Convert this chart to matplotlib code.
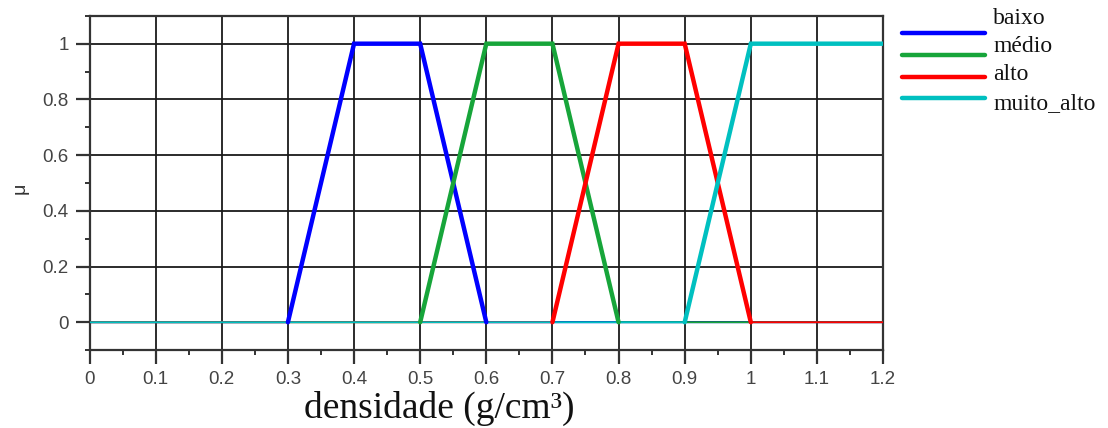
import matplotlib
matplotlib.use("Agg")
import matplotlib.pyplot as plt
from matplotlib.lines import Line2D
from matplotlib.ticker import MultipleLocator

# Membership function breakpoints (densidade in g/cm3, membership mu)
baixo_x = [0.0, 0.3, 0.4, 0.5, 0.6, 1.2]
baixo_y = [0, 0, 1, 1, 0, 0]
medio_x = [0.0, 0.5, 0.6, 0.7, 0.8, 1.2]
medio_y = [0, 0, 1, 1, 0, 0]
alto_x = [0.0, 0.7, 0.8, 0.9, 1.0, 1.2]
alto_y = [0, 0, 1, 1, 0, 0]
muito_alto_x = [0.0, 0.9, 1.0, 1.2]
muito_alto_y = [0, 0, 1, 1]

labels = ["baixo", "médio", "alto", "muito_alto"]
colors = ["#0000ff", "#17a53a", "#ff0000", "#00c0c0"]
xticks = [0, 0.1, 0.2, 0.3, 0.4, 0.5, 0.6, 0.7, 0.8, 0.9, 1, 1.1, 1.2]
yticks = [0, 0.2, 0.4, 0.6, 0.8, 1]

series = [(baixo_x, baixo_y), (medio_x, medio_y), (alto_x, alto_y),
          (muito_alto_x, muito_alto_y)]

W, H = 1108, 428
fig = plt.figure(figsize=(11.08, 4.28), dpi=100)
ax = fig.add_axes([0.0808, 0.182, 0.7162, 0.781])

for (xs, ys), c in zip(series, colors):
    # thin line over the whole domain
    ax.plot(xs, ys, color=c, lw=1.3, zorder=3, solid_capstyle="butt")
    # thick line over the nonzero part
    nz = [i for i, v in enumerate(ys) if v > 0]
    i0 = nz[0] - 1
    i1 = min(nz[-1] + 1, len(ys) - 1)
    ax.plot(xs[i0:i1 + 1], ys[i0:i1 + 1], color=c, lw=3.2, zorder=4,
            solid_capstyle="round", solid_joinstyle="miter")

ax.set_xlim(0, 1.2)
ax.set_ylim(-0.1, 1.1)
ax.set_xticks(xticks)
ax.set_xticklabels([f"{t:g}" for t in xticks])
ax.set_yticks(yticks)
ax.set_yticklabels([f"{t:g}" for t in yticks])
ax.xaxis.set_minor_locator(MultipleLocator(0.05))
ax.yaxis.set_minor_locator(MultipleLocator(0.1))
ax.grid(True, which="major", color="#1a1a1a", lw=1.3)
ax.set_axisbelow(True)
for s in ax.spines.values():
    s.set_color("#333333")
    s.set_linewidth(1.6)
ax.tick_params(which="major", direction="out", length=10, width=1.6,
               color="#333333", labelsize=13.5, labelcolor="#444444", pad=5)
ax.tick_params(which="minor", direction="out", length=3.5, width=1.4,
               color="#333333")
for lab in ax.get_xticklabels() + ax.get_yticklabels():
    lab.set_family("Liberation Sans")

fig.text(439 / W, 1 - 408 / H, "densidade (g/cm³)", family="Liberation Serif",
         fontsize=27, color="#111111", ha="center", va="center")
fig.text(20 / W, 1 - 188 / H, "μ", family="Liberation Sans", fontsize=14,
         color="#333333", ha="center", va="center", rotation=90)

# legend (outside, right)
line_y = [33, 54.5, 77, 98]
text_y = [19, 47, 75, 104]
for lab, c, ly, ty in zip(labels, colors, line_y, text_y):
    fig.add_artist(Line2D([902 / W, 985 / W], [1 - ly / H, 1 - ly / H],
                          color=c, lw=3.2, solid_capstyle="round"))
    fig.text(993 / W, 1 - ty / H, lab, family="Liberation Serif",
             fontsize=17, color="#111111", va="center", ha="left")

fig.savefig("out.png", dpi=100)
